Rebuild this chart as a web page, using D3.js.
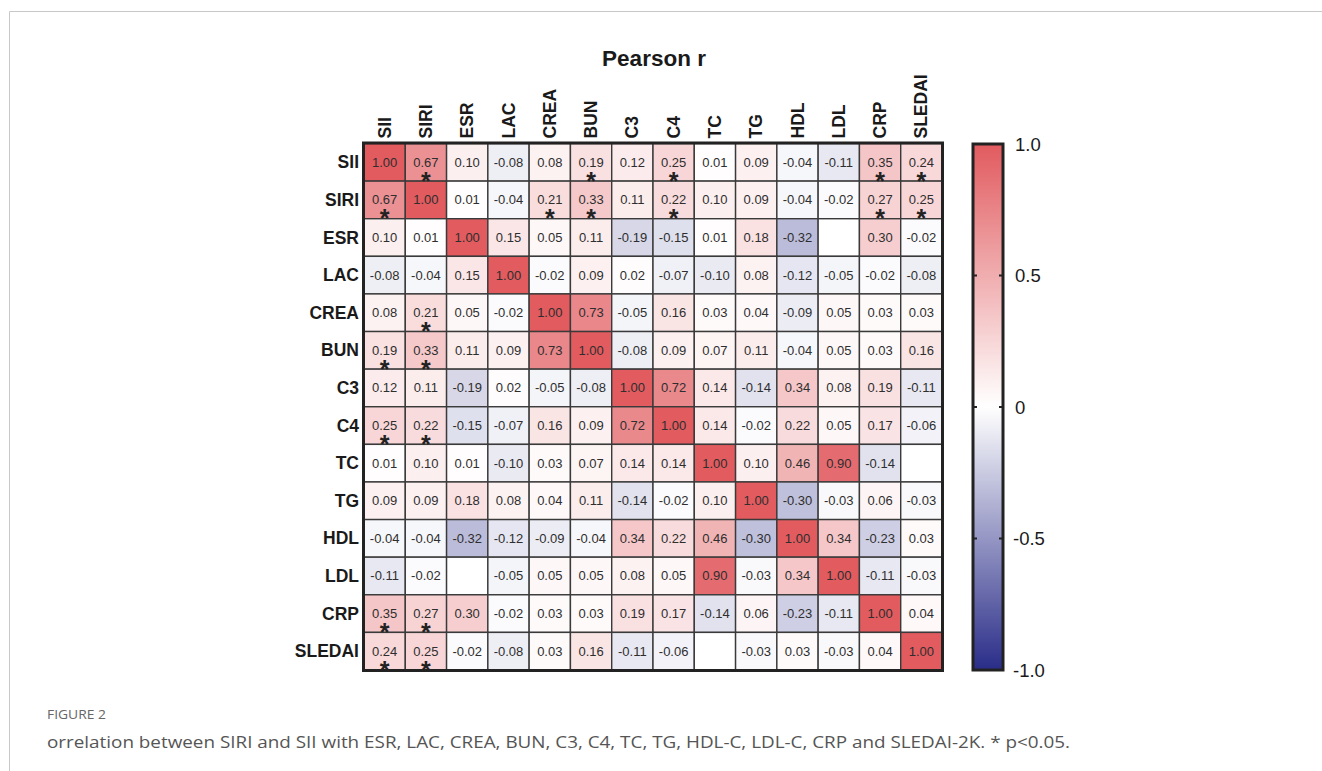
<!DOCTYPE html>
<html>
<head>
<meta charset="utf-8">
<script src="https://cdn.jsdelivr.net/npm/d3@7"></script>
<style>
  html, body { margin: 0; padding: 0; background: #fff; }
  svg { display: block; }
</style>
</head>
<body>
<svg id="chart"></svg>
<script>
// variables (rows and columns share the same order)
const labels = ['SII', 'SIRI', 'ESR', 'LAC', 'CREA', 'BUN', 'C3', 'C4', 'TC', 'TG', 'HDL', 'LDL', 'CRP', 'SLEDAI'];

// Pearson r, row by row (null = empty cell)
const rSII    = [1.00, 0.67, 0.10, -0.08, 0.08, 0.19, 0.12, 0.25, 0.01, 0.09, -0.04, -0.11, 0.35, 0.24];
const rSIRI   = [0.67, 1.00, 0.01, -0.04, 0.21, 0.33, 0.11, 0.22, 0.10, 0.09, -0.04, -0.02, 0.27, 0.25];
const rESR    = [0.10, 0.01, 1.00, 0.15, 0.05, 0.11, -0.19, -0.15, 0.01, 0.18, -0.32, null, 0.30, -0.02];
const rLAC    = [-0.08, -0.04, 0.15, 1.00, -0.02, 0.09, 0.02, -0.07, -0.10, 0.08, -0.12, -0.05, -0.02, -0.08];
const rCREA   = [0.08, 0.21, 0.05, -0.02, 1.00, 0.73, -0.05, 0.16, 0.03, 0.04, -0.09, 0.05, 0.03, 0.03];
const rBUN    = [0.19, 0.33, 0.11, 0.09, 0.73, 1.00, -0.08, 0.09, 0.07, 0.11, -0.04, 0.05, 0.03, 0.16];
const rC3     = [0.12, 0.11, -0.19, 0.02, -0.05, -0.08, 1.00, 0.72, 0.14, -0.14, 0.34, 0.08, 0.19, -0.11];
const rC4     = [0.25, 0.22, -0.15, -0.07, 0.16, 0.09, 0.72, 1.00, 0.14, -0.02, 0.22, 0.05, 0.17, -0.06];
const rTC     = [0.01, 0.10, 0.01, -0.10, 0.03, 0.07, 0.14, 0.14, 1.00, 0.10, 0.46, 0.90, -0.14, null];
const rTG     = [0.09, 0.09, 0.18, 0.08, 0.04, 0.11, -0.14, -0.02, 0.10, 1.00, -0.30, -0.03, 0.06, -0.03];
const rHDL    = [-0.04, -0.04, -0.32, -0.12, -0.09, -0.04, 0.34, 0.22, 0.46, -0.30, 1.00, 0.34, -0.23, 0.03];
const rLDL    = [-0.11, -0.02, null, -0.05, 0.05, 0.05, 0.08, 0.05, 0.90, -0.03, 0.34, 1.00, -0.11, -0.03];
const rCRP    = [0.35, 0.27, 0.30, -0.02, 0.03, 0.03, 0.19, 0.17, -0.14, 0.06, -0.23, -0.11, 1.00, 0.04];
const rSLEDAI = [0.24, 0.25, -0.02, -0.08, 0.03, 0.16, -0.11, -0.06, null, -0.03, 0.03, -0.03, 0.04, 1.00];
const matrix = [rSII, rSIRI, rESR, rLAC, rCREA, rBUN, rC3, rC4, rTC, rTG, rHDL, rLDL, rCRP, rSLEDAI];

// pairs with p<0.05 (symmetric)
const sigPairs = [
  ['SII', 'SIRI'], ['SII', 'BUN'], ['SII', 'C4'], ['SII', 'CRP'], ['SII', 'SLEDAI'],
  ['SIRI', 'CREA'], ['SIRI', 'BUN'], ['SIRI', 'C4'], ['SIRI', 'CRP'], ['SIRI', 'SLEDAI']
];

const legendTicks = [1.0, 0.5, 0, -0.5, -1.0];
const title = 'Pearson r';
const figLabel = 'FIGURE 2';
const caption = 'orrelation between SIRI and SII with ESR, LAC, CREA, BUN, C3, C4, TC, TG, HDL-C, LDL-C, CRP and SLEDAI-2K. * p<0.05.';

const width = 1322, height = 771;
const grid = { left: 364, top: 143.5, right: 942, bottom: 670 };
const bar = { left: 973, right: 1003, top: 144, bottom: 670 };

// plain hyphen instead of unicode minus
const locale = d3.formatLocale({ decimal: '.', thousands: ',', grouping: [3], currency: ['', ''], minus: '-' });
const fmt2 = locale.format('.2f');
const fmt1 = locale.format('.1f');

const svg = d3.select('#chart')
  .attr('width', width)
  .attr('height', height)
  .style('font-family', '"Liberation Sans", Arial, sans-serif');

// page frame
svg.append('path')
  .attr('d', `M${width},11.5H9.5V${height}`)
  .attr('fill', 'none')
  .attr('stroke', '#c8c8c8')
  .attr('stroke-width', 1);

const x = d3.scaleBand().domain(labels).range([grid.left, grid.right]);
const y = d3.scaleBand().domain(labels).range([grid.top, grid.bottom]);
const color = d3.scaleLinear().domain([-1, 0, 1]).range(['#2a2d88', '#ffffff', '#e15b5f']);

const sigSet = new Set();
sigPairs.forEach(([a, b]) => { sigSet.add(a + '|' + b); sigSet.add(b + '|' + a); });

const cells = [];
matrix.forEach((row, i) => row.forEach((v, j) => cells.push({ r: labels[i], c: labels[j], v })));

// cells
const g = svg.append('g');
g.selectAll('rect')
  .data(cells)
  .join('rect')
  .attr('x', d => x(d.c))
  .attr('y', d => y(d.r))
  .attr('width', x.bandwidth())
  .attr('height', y.bandwidth())
  .attr('fill', d => d.v === null ? '#fff' : color(d.v))
  .attr('stroke', '#3a3a3a')
  .attr('stroke-width', 1.4);

// values
g.selectAll('text.val')
  .data(cells.filter(d => d.v !== null))
  .join('text')
  .attr('class', 'val')
  .attr('x', d => x(d.c) + x.bandwidth() / 2)
  .attr('y', d => y(d.r) + y.bandwidth() / 2 + 4.5)
  .attr('text-anchor', 'middle')
  .attr('font-size', 13)
  .attr('fill', '#2e2e2e')
  .text(d => fmt2(d.v));

// significance stars
g.selectAll('text.star')
  .data(cells.filter(d => sigSet.has(d.r + '|' + d.c)))
  .join('text')
  .attr('class', 'star')
  .attr('x', d => x(d.c) + x.bandwidth() / 2)
  .attr('y', d => y(d.r) + y.bandwidth() / 2 + 27.5)
  .attr('text-anchor', 'middle')
  .attr('font-size', 25)
  .attr('font-weight', 'bold')
  .attr('fill', '#222')
  .text('*');

// outer border
svg.append('rect')
  .attr('x', grid.left - 0.5)
  .attr('y', grid.top - 0.5)
  .attr('width', grid.right - grid.left + 1)
  .attr('height', grid.bottom - grid.top + 1)
  .attr('fill', 'none')
  .attr('stroke', '#222')
  .attr('stroke-width', 3);

// row labels
svg.append('g').selectAll('text')
  .data(labels)
  .join('text')
  .attr('x', grid.left - 5)
  .attr('y', d => y(d) + y.bandwidth() / 2 + 6)
  .attr('text-anchor', 'end')
  .attr('font-size', 17.5)
  .attr('font-weight', 'bold')
  .attr('fill', '#1a1a1a')
  .text(d => d);

// column labels
svg.append('g').selectAll('text')
  .data(labels)
  .join('text')
  .attr('transform', d => `translate(${x(d) + x.bandwidth() / 2 + 6},${grid.top - 5}) rotate(-90)`)
  .attr('font-size', 17.5)
  .attr('font-weight', 'bold')
  .attr('fill', '#1a1a1a')
  .text(d => d);

// title
svg.append('text')
  .attr('x', (grid.left + grid.right) / 2 + 1)
  .attr('y', 66)
  .attr('text-anchor', 'middle')
  .attr('font-size', 22.5)
  .attr('font-weight', 'bold')
  .attr('fill', '#1a1a1a')
  .text(title);

// colour bar
const defs = svg.append('defs');
const grad = defs.append('linearGradient')
  .attr('id', 'cbar')
  .attr('x1', 0).attr('y1', 1).attr('x2', 0).attr('y2', 0);
grad.selectAll('stop')
  .data(d3.range(0, 1.0001, 0.05))
  .join('stop')
  .attr('offset', d => d)
  .attr('stop-color', d => color(d * 2 - 1));

const cy = d3.scaleLinear().domain([-1, 1]).range([bar.bottom, bar.top]);

svg.append('rect')
  .attr('x', bar.left)
  .attr('y', bar.top)
  .attr('width', bar.right - bar.left)
  .attr('height', bar.bottom - bar.top)
  .attr('fill', 'url(#cbar)')
  .attr('stroke', '#222')
  .attr('stroke-width', 3);

const tk = svg.append('g');
tk.selectAll('path')
  .data(legendTicks.filter(t => Math.abs(t) < 1))
  .join('path')
  .attr('d', t => `M${bar.left},${cy(t)}h4M${bar.right},${cy(t)}h-4`)
  .attr('stroke', '#222')
  .attr('stroke-width', 2);
tk.selectAll('text')
  .data(legendTicks)
  .join('text')
  .attr('x', t => t < 0 ? bar.right + 10 : bar.right + 12)
  .attr('y', t => cy(t) + 6.5)
  .attr('font-size', 18.5)
  .attr('fill', '#1a1a1a')
  .text(t => t === 0 ? '0' : fmt1(t));

// caption
svg.append('text')
  .attr('x', 47)
  .attr('y', 719)
  .attr('font-family', '"Open Sans", sans-serif')
  .attr('font-size', 13)
  .attr('fill', '#666')
  .attr('textLength', 59)
  .attr('lengthAdjust', 'spacingAndGlyphs')
  .text(figLabel);

svg.append('text')
  .attr('x', 47)
  .attr('y', 748)
  .attr('font-family', '"Open Sans", sans-serif')
  .attr('font-size', 16)
  .attr('fill', '#555')
  .attr('textLength', 1023)
  .attr('lengthAdjust', 'spacingAndGlyphs')
  .text(caption);
</script>
</body>
</html>
